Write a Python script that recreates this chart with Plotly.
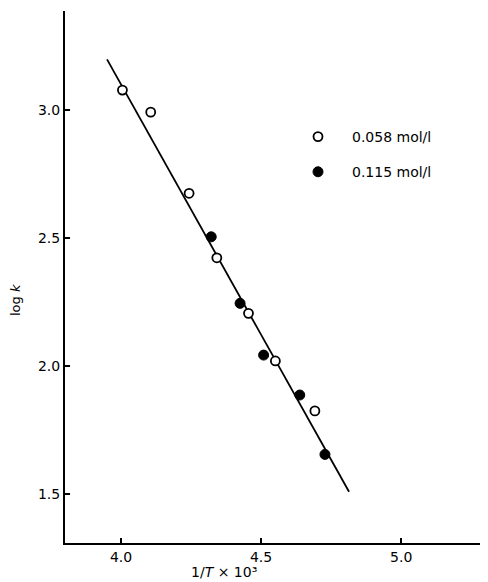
import plotly.graph_objects as go

# Data
open_x = [4.005, 4.106, 4.243, 4.342, 4.455, 4.551, 4.692]
open_y = [3.078, 2.992, 2.675, 2.423, 2.206, 2.020, 1.825]
filled_x = [4.322, 4.425, 4.509, 4.638, 4.728]
filled_y = [2.505, 2.245, 2.043, 1.887, 1.655]
fit_x = [3.950, 4.814]
fit_y = [3.198, 1.509]

x_tickvals = [4.0, 4.5, 5.0]
x_ticktext = ["4.0", "4.5", "5.0"]
y_tickvals = [1.5, 2.0, 2.5, 3.0]
y_ticktext = ["1.5", "2.0", "2.5", "3.0"]

open_label = "0.058 mol/l"
filled_label = "0.115 mol/l"

FONT = "DejaVu Sans"

fig = go.Figure()
fig.add_trace(go.Scatter(x=fit_x, y=fit_y, mode="lines",
                         line=dict(color="black", width=1.8),
                         showlegend=False, hoverinfo="skip"))
fig.add_trace(go.Scatter(x=open_x, y=open_y, mode="markers", name=open_label,
                         legendgroup="a",
                         marker=dict(symbol="circle", size=9, color="white",
                                     line=dict(color="black", width=1.8))))
fig.add_trace(go.Scatter(x=filled_x, y=filled_y, mode="markers", name=filled_label,
                         legendgroup="b",
                         marker=dict(symbol="circle", size=10, color="black",
                                     line=dict(color="black", width=1))))

# page has an 8px body margin; figure coordinates are page coordinates - 8
OFF = 8
W, H = 488 - OFF, 582 - OFF
ml, mr, mt, mb = 65 - OFF, 0, 11 - OFF, 39
pw = W - ml - mr
ph = H - mt - mb


def px(x):
    return (x - OFF - ml) / pw


def py(y):
    return 1 - (y - OFF - mt) / ph


fig.update_layout(
    width=W, height=H,
    margin=dict(l=ml, r=mr, t=mt, b=mb),
    paper_bgcolor="white", plot_bgcolor="white",
    font=dict(family=FONT, size=14, color="black"),
    legend=dict(x=px(284), y=py(121), xanchor="left", yanchor="top",
                tracegroupgap=14, bgcolor="rgba(0,0,0,0)", itemwidth=58,
                font=dict(family=FONT, size=14, color="black")),
    xaxis=dict(range=[3.80, 5.31], showgrid=False, zeroline=False,
               showline=True, linecolor="black", linewidth=2,
               ticks="inside", ticklen=5, tickwidth=1.5, tickcolor="black",
               tickvals=x_tickvals, ticktext=x_ticktext,
               tickfont=dict(family=FONT, size=14, color="black")),
    yaxis=dict(range=[1.309, 3.387], showgrid=False, zeroline=False,
               showline=True, linecolor="black", linewidth=2,
               ticks="inside", ticklen=5, tickwidth=1.5, tickcolor="black",
               tickvals=y_tickvals, ticktext=y_ticktext,
               tickfont=dict(family=FONT, size=14, color="black")),
    annotations=[
        dict(text="log <i>k</i>", xref="paper", yref="paper",
             x=px(15), y=py(300), textangle=-90,
             showarrow=False, xanchor="center", yanchor="middle",
             font=dict(family=FONT, size=13, color="black")),
        dict(text="1/<i>T</i> × 10³", xref="paper", yref="paper",
             x=px(224), y=py(572), yanchor="middle",
             showarrow=False, xanchor="center",
             font=dict(family=FONT, size=14, color="black")),
    ],
)

fig.write_html("out.html")
